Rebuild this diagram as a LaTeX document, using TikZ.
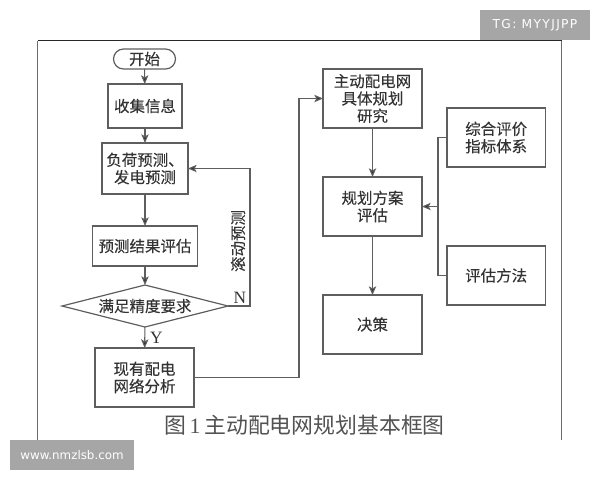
\documentclass[tikz,border=0pt]{standalone}
\usepackage{fontspec}
\setmainfont{Liberation Serif}
\newfontfamily\cjk{Noto Sans CJK SC}
\newfontfamily\cjkb[FakeBold=0.25]{Noto Sans CJK SC}
\newfontfamily\wm{DejaVu Sans}
\newfontfamily\wmw[LetterSpace=11]{DejaVu Sans}
\usetikzlibrary{arrows.meta,shapes.geometric}
\definecolor{ink}{HTML}{333333}
\definecolor{edge}{HTML}{5E5E5E}
\definecolor{tagbg}{HTML}{A6A6A6}
\tikzset{
  x=0.75pt,y=-0.75pt,
  every node/.style={inner sep=0pt,outer sep=0pt},
  labeltext/.style={text=ink,font=\cjkb\fontsize{11.6}{13}\selectfont,align=center},
  box/.style 2 args={draw=edge,line width=0.9pt,labeltext,minimum width=#1*0.75pt,minimum height=#2*0.75pt},
  startbox/.style={box={62}{20},rounded corners=7.5pt},
  decision/.style={draw=edge,line width=0.9pt,labeltext,diamond,aspect=4,minimum width=124.5pt,minimum height=31.5pt},
  link/.style={draw=edge,line width=0.8pt},
  flow/.style={link,-{Stealth[length=6.5pt,width=5.5pt,inset=1.5pt,fill=black!80]}},
  tag/.style={fill=tagbg,text=white,minimum height=22.5pt},
}
\begin{document}
\begin{tikzpicture}
\useasboundingbox (0,0) rectangle (600,480);
% frame
\draw[draw=gray!85!black,line width=0.7pt] (37.5,440) -- (37.5,40.5);
\draw[draw=black!85,line width=0.9pt] (37.5,40.5) -- (561.5,40.5);
\draw[draw=gray!85!black,line width=0.7pt] (561.5,40.5) -- (561.5,440);
% left column
\node[startbox] (start) at (144.5,59) {开始};
\node[box={74}{44}] (collect) at (145,106) {收集信息};
\node[box={86}{51}] (forecast) at (145,168.5) {负荷预测、\\发电预测};
\node[box={105}{40}] (evaluate) at (145,246) {预测结果评估};
\node[decision] (check) at (145,306) {满足精度要求};
\node[box={99}{59}] (existing) at (144.5,377.5) {现有配电\\网络分析};
% right column
\node[box={99}{59}] (plan) at (372.5,98.5) {主动配电网\\具体规划\\研究};
\node[box={99}{59}] (assess) at (372.5,206.5) {规划方案\\评估};
\node[box={99}{59}] (decide) at (372.5,324.5) {决策};
\node[box={98.5}{59}] (index) at (496.2,137.5) {综合评价\\指标体系};
\node[box={98.5}{59}] (method) at (496.2,275.5) {评估方法};
% labels
\node[labeltext,rotate=90] (roll) at (238,241) {滚动预测};
\node[text=ink,font=\fontsize{13}{15}\selectfont] (nlabel) at (240,298) {N};
\node[text=ink,font=\fontsize{13}{15}\selectfont] (ylabel) at (156.5,337.5) {Y};
\node[text=ink!85,font=\cjk\fontsize{16.4}{20}\selectfont] (caption) at (304.5,425) {图\,{\rmfamily 1}\,主动配电网规划基本框图};
% watermarks
\node[tag,font=\wmw\fontsize{9.2}{10}\selectfont,minimum width=82.5pt] (tg) at (535,25) {TG: MYYJJPP};
\node[tag,font=\wm\fontsize{8.9}{10}\selectfont,minimum width=93pt] (www) at (72,455) {www.nmzlsb.com};
% connectors
\coordinate (rollturn) at (250,306);
\coordinate (rollup) at (250,168.5);
\coordinate (busbot) at (299,377.5);
\coordinate (bustop) at (299,98.5);
\coordinate (join) at (438,206.5);
\coordinate (jointop) at (438,137.5);
\coordinate (joinbot) at (438,275.5);
\draw[flow] (start) -- (collect);
\draw[flow] (collect) -- (forecast);
\draw[flow] (forecast) -- (evaluate);
\draw[flow] (evaluate) -- (check);
\draw[flow] (check) -- (existing);
\draw[flow] (check.east) -- (rollturn) -- (rollup) -- (forecast.east);
\draw[flow] (existing.east) -- (busbot) -- (bustop) -- (plan.west);
\draw[flow] (plan) -- (assess);
\draw[flow] (assess) -- (decide);
\draw[link] (index.west) -- (jointop) -- (joinbot) -- (method.west);
\draw[flow] (join) -- (assess.east);
\end{tikzpicture}
\end{document}
